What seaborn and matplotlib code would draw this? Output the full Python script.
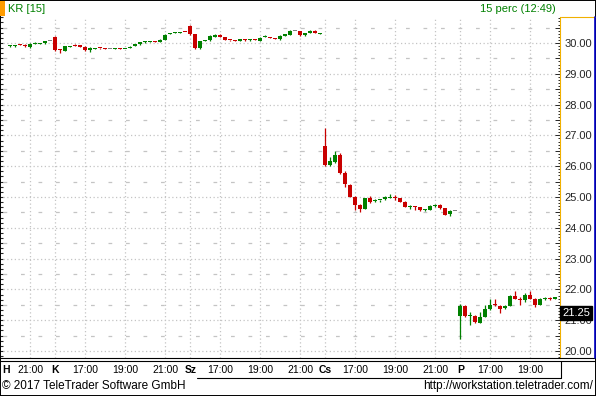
# KR [15] - 15 minute candlestick chart (TeleTrader style)

import matplotlib
matplotlib.use("Agg")
import numpy as np
import pandas as pd
import matplotlib.pyplot as plt
import matplotlib.transforms as mtrans
from matplotlib.lines import Line2D
from matplotlib.patches import Rectangle
from matplotlib.ticker import MultipleLocator, FormatStrFormatter, NullFormatter
import seaborn as sns

sns.set_style("white")
plt.rcParams['font.family'] = ['Liberation Sans', 'DejaVu Sans']

# ------------------------------------------
# DATA
# ------------------------------------------

# trading days and number of 15 min bars shown for each (session 15:30 - 22:00)
day_names = ["H", "K", "Sz", "Cs", "P"]
day_first_bar = ["20:00", "15:30", "15:30", "15:30", "15:30"]
day_bar_count = [9, 27, 27, 27, 20]

time_labels = ["17:00", "19:00", "21:00"]

opens = [
    # H
    29.90, 29.90, 29.95, 29.95, 29.88, 29.98, 29.97, 29.99, 30.05,
    # K
    30.21, 29.80, 29.74, 29.88, 29.92, 29.92, 29.88, 29.76, 29.82, 29.84,
    29.83, 29.80, 29.81, 29.83, 29.80, 29.84, 29.90, 29.96, 30.02, 30.04,
    30.05, 30.03, 30.11, 30.30, 30.34, 30.33, 30.38,
    # Sz
    30.56, 30.29, 29.84, 30.08, 30.09, 30.20, 30.27, 30.20, 30.10, 30.08,
    30.07, 30.11, 30.09, 30.11, 30.08, 30.21, 30.20, 30.16, 30.12, 30.24,
    30.26, 30.38, 30.38, 30.25, 30.33, 30.40, 30.30,
    # Cs
    26.66, 26.04, 26.13, 26.36, 25.78, 25.39, 25.00, 24.74, 24.62, 24.97,
    24.87, 24.90, 24.92, 24.98, 25.00, 24.96, 24.84, 24.66, 24.68, 24.67,
    24.57, 24.58, 24.71, 24.74, 24.63, 24.45, 24.55,
    # P
    21.15, 21.46, 21.14, 21.14, 20.92, 21.10, 21.35, 21.49, 21.47, 21.41,
    21.47, 21.79, 21.69, 21.64, 21.82, 21.69, 21.50, 21.69, 21.71, 21.70,
]
highs = [
    29.94, 29.94, 29.97, 29.96, 29.99, 30.02, 29.99, 30.08, 30.05,
    30.22, 29.81, 29.91, 29.91, 29.96, 29.93, 29.89, 29.86, 29.85, 29.85,
    29.84, 29.80, 29.83, 29.84, 29.82, 29.89, 29.97, 30.03, 30.07, 30.07,
    30.06, 30.12, 30.28, 30.32, 30.37, 30.35, 30.38,
    30.60, 30.30, 30.08, 30.11, 30.25, 30.29, 30.28, 30.21, 30.11, 30.09,
    30.13, 30.12, 30.13, 30.13, 30.18, 30.26, 30.21, 30.17, 30.25, 30.30,
    30.41, 30.38, 30.40, 30.34, 30.41, 30.41, 30.31,
    27.25, 26.29, 26.49, 26.43, 25.84, 25.42, 25.02, 24.76, 24.98, 25.02,
    24.94, 24.91, 25.02, 25.10, 25.07, 24.97, 24.86, 24.73, 24.71, 24.68,
    24.60, 24.73, 24.77, 24.77, 24.64, 24.58, 24.55,
    21.53, 21.50, 21.26, 21.17, 21.28, 21.48, 21.69, 21.70, 21.48, 21.49,
    21.81, 21.95, 21.76, 21.87, 21.95, 21.71, 21.71, 21.76, 21.76, 21.76,
]
lows = [
    29.87, 29.88, 29.93, 29.88, 29.85, 29.96, 29.96, 29.98, 30.05,
    29.75, 29.66, 29.73, 29.86, 29.90, 29.87, 29.75, 29.71, 29.81, 29.82,
    29.80, 29.80, 29.80, 29.79, 29.79, 29.83, 29.89, 29.95, 30.01, 30.03,
    30.02, 30.02, 30.10, 30.28, 30.33, 30.32, 30.38,
    30.25, 29.82, 29.81, 30.07, 30.08, 30.19, 30.19, 30.09, 30.08, 30.06,
    30.06, 30.08, 30.08, 30.09, 30.06, 30.20, 30.16, 30.12, 30.11, 30.23,
    30.25, 30.38, 30.24, 30.23, 30.32, 30.32, 30.30,
    26.02, 26.01, 26.11, 25.75, 25.33, 24.99, 24.58, 24.52, 24.60, 24.80,
    24.84, 24.84, 24.91, 24.96, 24.91, 24.83, 24.68, 24.62, 24.58, 24.56,
    24.56, 24.57, 24.67, 24.62, 24.41, 24.37, 24.55,
    20.39, 21.10, 20.85, 20.91, 20.90, 21.09, 21.33, 21.47, 21.25, 21.36,
    21.45, 21.68, 21.50, 21.60, 21.68, 21.43, 21.48, 21.66, 21.66, 21.69,
]
closes = [
    29.91, 29.92, 29.94, 29.89, 29.97, 29.99, 29.98, 30.07, 30.05,
    29.77, 29.77, 29.90, 29.89, 29.91, 29.88, 29.76, 29.85, 29.83, 29.83,
    29.81, 29.80, 29.82, 29.81, 29.81, 29.88, 29.96, 30.02, 30.06, 30.05,
    30.03, 30.11, 30.27, 30.31, 30.36, 30.34, 30.37,
    30.29, 29.84, 30.07, 30.10, 30.24, 30.27, 30.20, 30.10, 30.09, 30.07,
    30.12, 30.09, 30.10, 30.10, 30.17, 30.22, 30.17, 30.13, 30.24, 30.28,
    30.40, 30.38, 30.25, 30.33, 30.40, 30.33, 30.31,
    26.04, 26.17, 26.36, 25.77, 25.41, 25.01, 24.74, 24.60, 24.96, 24.84,
    24.90, 24.91, 25.00, 25.00, 24.98, 24.84, 24.69, 24.68, 24.66, 24.57,
    24.59, 24.71, 24.73, 24.63, 24.42, 24.56, 24.55,
    21.46, 21.15, 21.15, 20.94, 21.10, 21.35, 21.49, 21.48, 21.37, 21.47,
    21.79, 21.69, 21.64, 21.82, 21.69, 21.50, 21.69, 21.71, 21.70, 21.75,
]

marker_price = 21.25

# ------------------------------------------
# BUILD TABLE
# ------------------------------------------

rows = []
for name, first, count in zip(day_names, day_first_bar, day_bar_count):
    t0 = pd.Timestamp("2017-01-01 " + first)
    for k in range(count):
        rows.append((name, (t0 + pd.Timedelta(minutes=15 * k)).strftime("%H:%M")))
df = pd.DataFrame(rows, columns=["day", "time"])
df["bar"] = np.arange(len(df))
df["open"] = opens
df["high"] = highs
df["low"] = lows
df["close"] = closes

GREEN = "#008000"
RED = "#c80000"
GREY = "#808080"
df["color"] = np.where(df["close"] > df["open"], GREEN,
                       np.where(df["close"] < df["open"], RED, GREY))

# ------------------------------------------
# FIGURE
# ------------------------------------------

W, H = 596, 396
def fx(px):
    return px / W
def fy(py):
    return 1 - py / H

fig = plt.figure(figsize=(W / 100, H / 100), dpi=100)
ax = fig.add_axes([fx(3), fy(358), fx(560) - fx(3), fy(17) - fy(358)])

px_per_unit = 30.8
ax.set_ylim(30 - (358 - 43) / px_per_unit, 30 + (43 - 17) / px_per_unit)
ax.set_xlim((3 - 10.3) / 5.0, (560 - 10.3) / 5.0)

# candles
ax.vlines(df["bar"], df["low"], df["high"], colors=df["color"], lw=0.9, zorder=3)
body_bottom = np.minimum(df["open"], df["close"])
body_height = np.maximum((df["close"] - df["open"]).abs(), 1.0 / px_per_unit)
ax.bar(df["bar"], body_height, bottom=body_bottom, width=0.78,
       color=df["color"], linewidth=0, zorder=4)

# x ticks: day start + time labels
tick_pos, tick_lab = [], []
for name in day_names:
    sub = df[df["day"] == name]
    if name == day_names[0]:
        tick_pos.append(ax.get_xlim()[0] + 0.6)
    else:
        tick_pos.append(sub["bar"].iloc[0])
    tick_lab.append(name)
    for t in time_labels:
        hit = sub[sub["time"] == t]
        if len(hit):
            tick_pos.append(hit["bar"].iloc[0])
            tick_lab.append(t)
order = np.argsort(tick_pos)
tick_pos = [tick_pos[i] for i in order]
tick_lab = [tick_lab[i] for i in order]
ax.set_xticks(tick_pos, tick_lab)
ax.tick_params(axis="x", length=0, pad=5, labelsize=7.5, colors="black")
for lab in ax.get_xticklabels():
    if lab.get_text() in day_names:
        lab.set_fontweight("bold")

# grid
grid_col = "#c4c4c4"
ax.yaxis.set_major_locator(MultipleLocator(1))
ax.yaxis.set_minor_locator(MultipleLocator(0.5))
ax.grid(which="major", axis="both", color=grid_col, linestyle=(0, (1, 2)), lw=0.9)
ax.grid(which="minor", axis="y", color=grid_col, linestyle=(0, (3, 11)), lw=0.9)
ax.get_xgridlines()[0].set_visible(False)

# right price axis
ax.yaxis.tick_right()
ax.yaxis.set_major_formatter(FormatStrFormatter("%.2f"))
ax.tick_params(axis="y", which="major", direction="in", length=3.5, width=0.7,
               labelsize=8, pad=3, left=False, right=True)
ax.tick_params(axis="y", which="minor", direction="in", length=3.5, width=0.7,
               left=False, right=True)
for side in ["top", "left", "bottom"]:
    ax.spines[side].set_visible(False)
ax.spines["right"].set_color("#f0b000")
ax.spines["right"].set_linewidth(0.8)

fine = ax.secondary_yaxis("right")
fine.yaxis.set_major_locator(MultipleLocator(0.1))
fine.yaxis.set_major_formatter(NullFormatter())
fine.tick_params(axis="y", direction="in", length=1.5, width=0.7)
fine.spines["right"].set_visible(False)

left_ruler = ax.secondary_yaxis("left")
left_ruler.yaxis.set_major_locator(MultipleLocator(1))
left_ruler.yaxis.set_minor_locator(MultipleLocator(1 / 6))
left_ruler.yaxis.set_major_formatter(NullFormatter())
left_ruler.tick_params(axis="y", which="major", direction="out", length=3, width=0.8)
left_ruler.tick_params(axis="y", which="minor", direction="out", length=2, width=0.8)
left_ruler.spines["left"].set_visible(False)

# last price box
box_tr = mtrans.offset_copy(ax.get_yaxis_transform(), fig=fig, x=2.2, y=0, units="dots")
ax.text(1.0, marker_price, f"{marker_price:.2f}", transform=box_tr, ha="left", va="center",
        color="white", fontsize=8, zorder=10, clip_on=False,
        bbox=dict(boxstyle="square,pad=0.18", fc="black", ec="black"))

# frame lines
def fig_line(x0, y0, x1, y1, color="black", lw=0.8):
    fig.add_artist(Line2D([fx(x0), fx(x1)], [fy(y0), fy(y1)], color=color, lw=lw,
                          transform=fig.transFigure))

fig_line(0, 357.5, 596, 357.5)
fig_line(0, 360.5, 596, 360.5)
fig_line(560.5, 360.5, 560.5, 377.5)
fig_line(197, 377.5, 560.5, 377.5)
fig_line(560.5, 17, 595, 17, color="#f0b000")
fig_line(594.5, 17, 594.5, 357.5, color="#0000c8", lw=1.2)
fig.add_artist(Rectangle((0, 0), 1, 1, transform=fig.transFigure, fill=False,
                         ec="black", lw=1.4))

# header
fig.add_artist(Rectangle((0, fy(16)), fx(5), fy(1) - fy(16), transform=fig.transFigure,
                         fc="#ff9c00", ec="none"))
fig.text(fx(8), fy(8.5), "KR [15]", color=GREEN, fontsize=8, ha="left", va="center")
fig.text(fx(556), fy(8.5), "15 perc (12:49)", color=GREEN, fontsize=8, ha="right", va="center")

# footer
fig.text(fx(2), fy(386), "\u00a9 2017 TeleTrader Software GmbH", fontsize=8.5,
         ha="left", va="center", color="black")
fig.text(fx(593), fy(386), "http://workstation.teletrader.com/", fontsize=8.5,
         ha="right", va="center", color="black")

fig.savefig("out.png", dpi=100, facecolor="white")
